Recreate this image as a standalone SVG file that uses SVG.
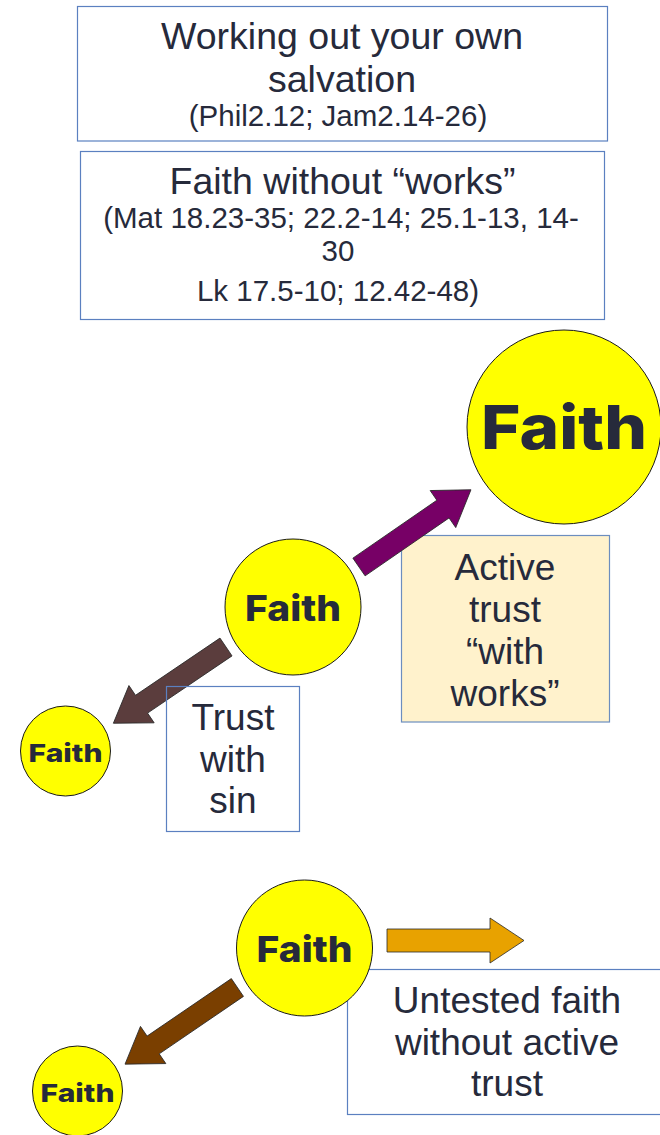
<svg xmlns="http://www.w3.org/2000/svg" width="660" height="1135" viewBox="0 0 660 1135">
<style>
.box{fill:#ffffff;stroke:#5b80c0;stroke-width:1.2}
.nofill{fill:none;stroke:#5b80c0;stroke-width:1.2}
.note{fill:#fff2cc;stroke:#6c8ebf;stroke-width:1.2}
.t{font-family:"Liberation Sans",Arial,sans-serif;fill:#262a3b;text-anchor:middle}
.h{font-size:37.5px}
.s{font-size:29.5px}
.m{font-size:37px}
.circ{fill:#ffff00;stroke:#1a1a1a;stroke-width:1}
.f{font-family:"Inter","DejaVu Sans",sans-serif;font-weight:800;fill:#262a3b;text-anchor:middle}
.arr{stroke:#2a2a2a;stroke-width:0.8}
</style>
<defs>
<polygon id="arrowShape" points="0,-10.75 102,-10.75 102,-22.5 136,0 102,22.5 102,10.75 0,10.75"/>
</defs>
<rect width="660" height="1135" fill="#ffffff"/>

<g id="box-working">
<rect class="box" x="77.5" y="6.5" width="530" height="134.5"/>
<text class="t h" x="342" y="49">Working out your own</text>
<text class="t h" x="342" y="92">salvation</text>
<text class="t s" x="338" y="126">(Phil2.12; Jam2.14-26)</text>
</g>

<g id="box-faith-without">
<rect class="box" x="80.5" y="151.5" width="524" height="168"/>
<text class="t h" x="342.5" y="194">Faith without “works”</text>
<text class="t s" x="341" y="228">(Mat 18.23-35; 22.2-14; 25.1-13, 14-</text>
<text class="t s" x="338" y="261">30</text>
<text class="t s" x="338" y="301">Lk 17.5-10; 12.42-48)</text>
</g>

<g id="box-active">
<rect class="note" x="401.5" y="535.5" width="208" height="186.5"/>
<text class="t m" x="505" y="580">Active</text>
<text class="t m" x="505" y="622">trust</text>
<text class="t m" x="505" y="664">“with</text>
<text class="t m" x="505" y="706">works”</text>
</g>

<g id="connectors">
<use href="#arrowShape" class="arr" fill="#770066" transform="translate(359,567) rotate(-34.6)"/>
<use href="#arrowShape" class="arr" fill="#5b3d3d" transform="translate(226,647) rotate(145.9)"/>
<use href="#arrowShape" class="arr" fill="#7a3f00" transform="translate(237.4,987.5) rotate(145.7)"/>
<polygon class="arr" fill="#e8a200" points="387,929 490,929 490,918 524,940.5 490,963 490,952 387,952"/>
</g>

<g id="box-trust-sin">
<rect class="nofill" x="166.5" y="686.5" width="133" height="145"/>
<text class="t m" x="233" y="730">Trust</text>
<text class="t m" x="233" y="772">with</text>
<text class="t m" x="233" y="813">sin</text>
</g>

<g id="box-untested">
<rect class="nofill" x="347.5" y="969.5" width="320" height="145"/>
<text class="t m" x="507" y="1013">Untested faith</text>
<text class="t m" x="507" y="1055">without active</text>
<text class="t m" x="507" y="1096">trust</text>
</g>

<g id="faith-big">
<circle class="circ" cx="564" cy="427" r="97"/>
<text class="f" x="564" y="449" font-size="61" textLength="166" lengthAdjust="spacingAndGlyphs">Faith</text>
</g>

<g id="faith-mid">
<circle class="circ" cx="293" cy="607" r="68"/>
<text class="f" x="293" y="620.5" font-size="36" textLength="96" lengthAdjust="spacingAndGlyphs">Faith</text>
</g>

<g id="faith-small">
<circle class="circ" cx="65.5" cy="751" r="45"/>
<text class="f" x="65.5" y="761.5" font-size="25" textLength="74" lengthAdjust="spacingAndGlyphs">Faith</text>
</g>

<g id="faith-mid-bottom">
<circle class="circ" cx="304.5" cy="948" r="68"/>
<text class="f" x="304.5" y="961.5" font-size="36" textLength="96" lengthAdjust="spacingAndGlyphs">Faith</text>
</g>

<g id="faith-small-bottom">
<circle class="circ" cx="77.5" cy="1091" r="45"/>
<text class="f" x="77.5" y="1101.5" font-size="25" textLength="74" lengthAdjust="spacingAndGlyphs">Faith</text>
</g>
</svg>
